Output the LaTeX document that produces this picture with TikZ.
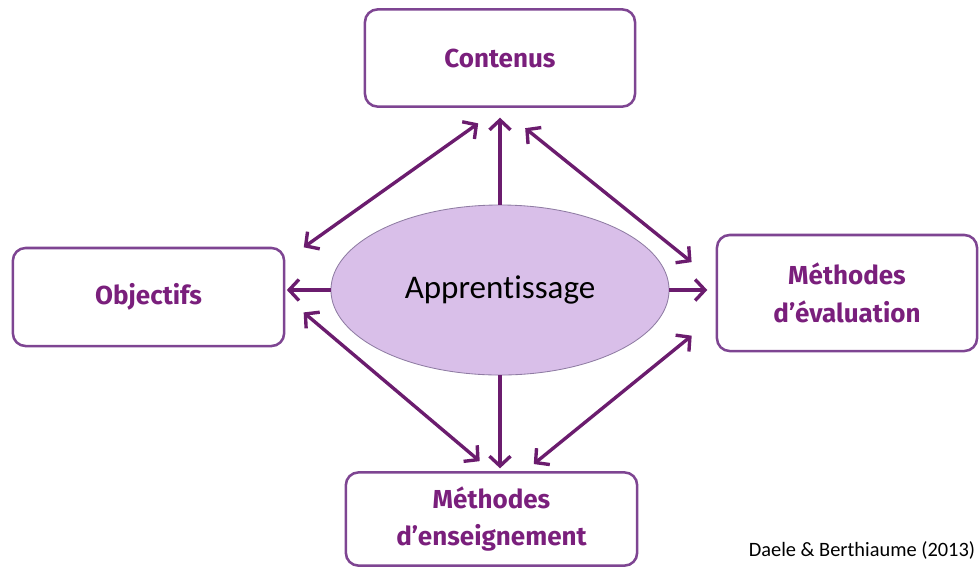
\documentclass[tikz,border=0pt]{standalone}
\usepackage{fontspec}
\setmainfont{Fira Sans}
\newfontfamily\carlito[Ligatures=NoCommon]{Carlito}
\usetikzlibrary{arrows.meta,positioning,shapes.geometric}
\definecolor{violetfonce}{HTML}{6B1C6E}
\definecolor{violetbord}{HTML}{7E4592}
\definecolor{violettexte}{HTML}{7A1F7C}
\definecolor{lilas}{HTML}{D9BFE9}
\definecolor{lilasbord}{HTML}{8F7CA3}

\begin{document}
\begin{tikzpicture}[x=0.025cm,y=-0.025cm,>={Straight Barb[length=7pt,width=15pt]}]
        \tikzset{block/.style= {draw=violetbord, line width=1.8pt, rectangle, rounded corners=9pt, align=center, text=violettexte, font=\fontsize{18.5}{27}\selectfont\bfseries},
        oval/.style={draw=lilasbord, line width=0.6pt, fill=lilas, ellipse, inner sep=0pt, minimum width=8.45cm, minimum height=4.25cm, font=\carlito\fontsize{23.5}{26}\selectfont},
        link/.style={draw=violetfonce, line width=2.4pt},
        }
        \useasboundingbox (0,0) rectangle (980,568);
        \node [block, minimum width=6.75cm, minimum height=2.43cm] (cont) at (500,58) {Contenus};
        \node [block, minimum width=6.78cm, minimum height=2.45cm] (obj) at (148.5,297) {Objectifs};
        \node [block, minimum width=6.5cm, minimum height=2.9cm] (eval) at (847,293) {Méthodes\\d’évaluation};
        \node [block, minimum width=7.28cm, minimum height=2.33cm] (ens) at (491.5,519) {Méthodes\\d’enseignement};
        \node [oval] (app) at (500,290) {Apprentissage};
        \node [anchor=base east, font=\carlito\fontsize{14.5}{16}\selectfont] (cite) at (980,556) {Daele \& Berthiaume (2013)};
%% paths
        \path[link] (app) edge[->, shorten >=7pt] (cont)
                    (app.south) edge[->, shorten >=2pt] (app.south |- ens.north)
                    (app.west) edge[->, shorten >=1pt] (app.west -| obj.east)
                    (app.east) edge[->, shorten >=6pt] (app.east -| eval.west)
                    ;
        \path[link] (cont.south) edge[<->, shorten <=19pt, shorten >=16pt] (obj.15)
                    (cont.south) edge[<->, shorten <=23pt, shorten >=22pt] (eval.175)
                    (obj.east) edge[<->, shorten <=17pt, shorten >=11pt] (ens.north)
                    (eval.190) edge[<->, shorten <=22pt, shorten >=8pt] (ens.55)
                    ;
    \end{tikzpicture}
\end{document}
